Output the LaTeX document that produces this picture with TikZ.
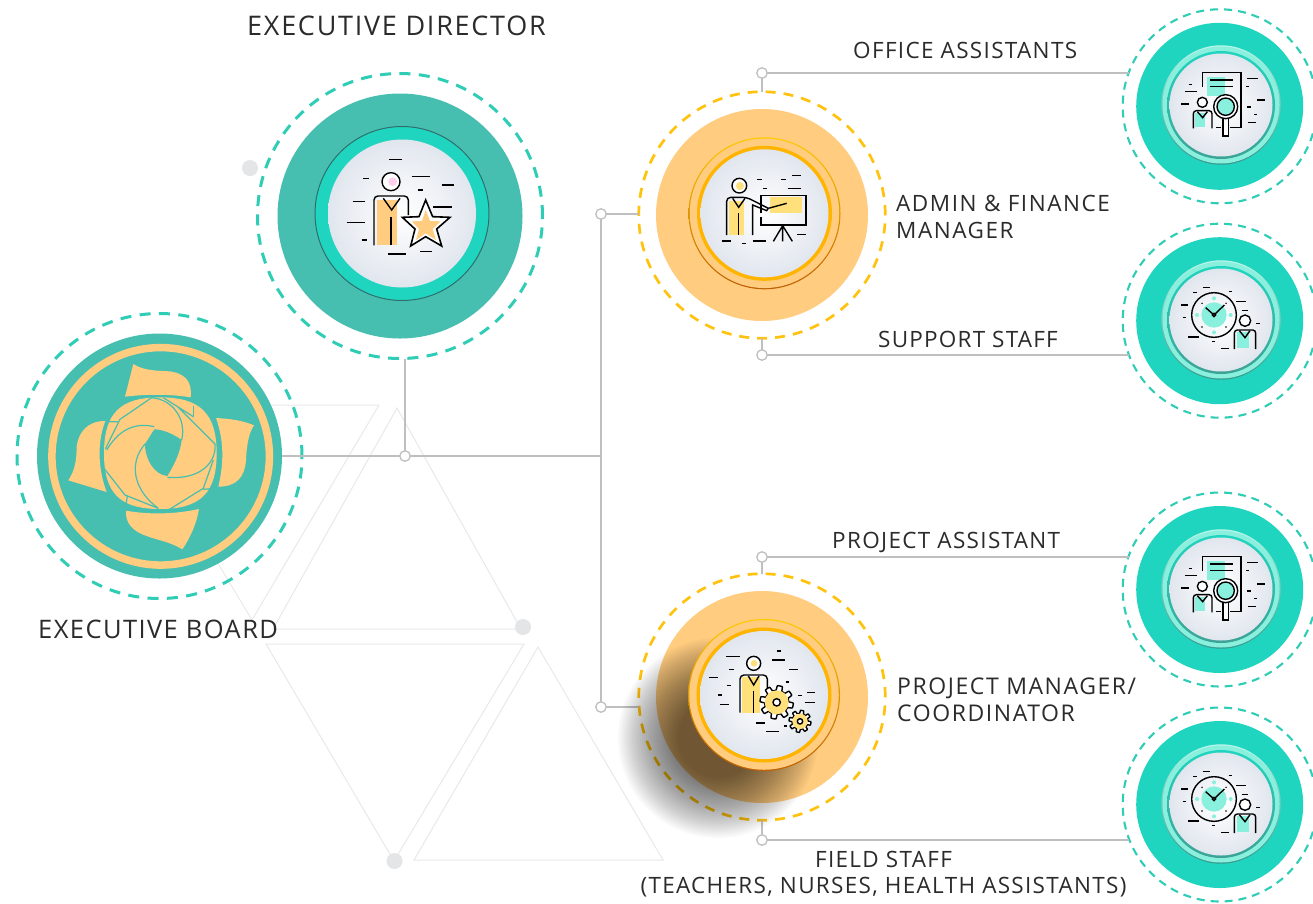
\documentclass[tikz,border=0pt]{standalone}
\usepackage{fontspec}
\setmainfont{Open Sans}
\definecolor{tealA}{HTML}{47BFB0}
\definecolor{tealB}{HTML}{20D5BF}
\definecolor{tealDash}{HTML}{2FCDB6}
\definecolor{tealSoft}{HTML}{8AF0DE}
\definecolor{tealLine}{HTML}{2E6F6B}
\definecolor{orangeA}{HTML}{FFCC80}
\definecolor{orangeB}{HTML}{FFB400}
\definecolor{goldDash}{HTML}{FFC20E}
\definecolor{yellowA}{HTML}{FFE07A}
\definecolor{connGray}{HTML}{BFBFBF}
\definecolor{triGray}{HTML}{E9E9E9}
\definecolor{dotGray}{HTML}{E4E5E7}
\definecolor{inkText}{HTML}{2B2B2B}
\definecolor{paleEdge}{HTML}{E1E6EE}
\newcommand{\dashlist}[1]{\foreach \a/\b/\c in {#1}{\draw[icon] (\a,\c)--(\b,\c);}}
\newcommand{\paperIcon}[2]{%
\begin{scope}[shift={(#1,#2)},scale=1/3]
\fill[tealSoft] (290,230) rectangle (345,287);
\draw[icon] (278,260)--(278,218)--(393,218)--(393,383)--(360,383);
\draw[icon] (300,240)--(370,240) (300,259)--(370,259);
\fill[tealSoft] (256,340) rectangle (285,380);
\draw[icon,rounded corners=3pt] (250,385)--(250,332)--(306,332)--(306,385);
\draw[icon] (262,335)--(278,353)--(292,335);
\draw[icon,fill=white] (277,307) circle [radius=15];
\draw[icon,fill=white] (339,355) rectangle (355,408);
\draw[icon,fill=white] (347,320) circle [radius=36];
\draw[icon,fill=tealSoft] (347,320) circle [radius=26];
\dashlist{236/247/254,225/260/275,214/238/312,412/443/235,408/418/259,442/465/300,412/423/321,432/442/344,415/439/368,318/332/383}
\end{scope}}
\newcommand{\clockIcon}[2]{%
\begin{scope}[shift={(#1,#2)},scale=1/3]
\draw[icon] (312,300) circle [radius=67];
\fill[tealSoft] (312,300) circle [radius=38];
\foreach \p/\q in {312/250,362/300,312/352,261/300}{\fill[tealSoft] (\p,\q) circle [radius=6];}
\foreach \p/\q in {276/265,348/265,276/336,348/336}{\fill (\p,\q) circle [radius=2.5];}
\draw[icon] (287,278)--(312,300)--(343,270);
\draw[icon,fill=white] (312,300) circle [radius=5];
\fill[tealSoft] (380,352) rectangle (418,398);
\draw[icon,rounded corners=3pt] (373,402)--(373,345)--(437,345)--(437,402);
\draw[icon] (388,347)--(405,368)--(420,347);
\draw[icon,fill=white] (405,317) circle [radius=17];
\dashlist{278/301/217,250/260/233,356/367/229,378/408/260,213/235/270,395/415/287,218/228/307,438/449/326,234/266/366,306/316/380,334/356/401}
\end{scope}}
\newcommand{\gearAt}[5]{%
\draw[icon,fill=white] plot[domain=0:360,samples=193] ({#1+#3*(0.86+0.14*max(-1,min(1,3*sin(8*\x))))*cos(\x)},{#2+#3*(0.86+0.14*max(-1,min(1,3*sin(8*\x))))*sin(\x)}) -- cycle;
\fill[yellowA] (#1,#2) circle [radius=#4];
\draw[icon,fill=white] (#1,#2) circle [radius=#5];}
\tikzset{
 sized/.style={circle,inner sep=0pt,outer sep=0pt,minimum size=#1},
 icon/.style={draw=black,line width=1.4pt},
 conn/.style={draw=connGray,line width=1.5pt},
 tri/.style={draw=triGray,line width=1pt},
 joint/.style={sized=10.5pt,draw=connGray,line width=1.3pt,fill=white},
 ghost/.style={sized=16pt,fill=dotGray},
 ringBig/.style={sized=285pt,draw=tealDash,line width=3pt,dash pattern=on 11pt off 8.4pt},
 ringGold/.style={sized=246.5pt,draw=goldDash,line width=2.7pt,dash pattern=on 10pt off 8pt},
 ringThin/.style={sized=194pt,draw=tealDash,line width=2.1pt,dash pattern=on 8pt off 6pt},
 discA/.style={sized=245pt,fill=tealA},
 discO/.style={sized=212pt,fill=orangeA},
 discT/.style={sized=167pt,fill=tealB},
 centre/.style={circle,inner sep=0pt,outer sep=0pt,shading=radial,inner color=white,outer color=paleEdge},
 labL/.style 2 args={inner sep=0pt,text=inkText,anchor=west,align=left,font=\fontsize{#1}{26.5}\selectfont\addfontfeatures{LetterSpace=#2}},
 labC/.style 2 args={inner sep=0pt,text=inkText,align=center,font=\fontsize{#1}{26.5}\selectfont\addfontfeatures{LetterSpace=#2}},
}
\begin{document}
\begin{tikzpicture}[x=1pt,y=-1pt]
\useasboundingbox (0,0) rectangle (1313,903);
\fill[white] (0,0) rectangle (1313,903);
% background triangles
\draw[tri] (123,405)--(379,405)--(252,620)--cycle;
\draw[tri] (397,408)--(521,629)--(273,629)--cycle;
\draw[tri] (266,644)--(524,644)--(394,861)--cycle;
\draw[tri] (538,647)--(663,860)--(414,860)--cycle;
\node[ghost] (g1) at (250,168) {};
\node[ghost] (g2) at (523,627) {};
\node[ghost] (g3) at (394.5,861) {};
% outer rings and discs
\node[discA] (ed) at (400,216) {};
\node[ringBig] (edr) at (400,216) {};
\node[discA] (bo) at (159.5,456) {};
\node[ringBig] (bor) at (159.5,456) {};
\node[discO] (ad) at (762,215) {};
\node[ringGold] (adr) at (762,215) {};
\node[discO] (pm) at (762,697) {};
\node[ringGold] (pmr) at (762,697) {};
\foreach \n/\y in {oa/106.3,ss/320.7,pa/589.5,fs/804.5}{
 \node[discT] (\n) at (1219.7,\y) {};
 \node[ringThin] (\n r) at (1219.7,\y) {};
}
% junctions and connectors
\node[joint] (j1) at (405,456) {};
\coordinate (jm) at (601,456);
\node[joint] (ja) at (601,214) {};
\node[joint] (jp) at (601,707) {};
\node[joint] (jo) at (762,73) {};
\node[joint] (js) at (762,355) {};
\node[joint] (jq) at (762,557) {};
\node[joint] (jf) at (762,840) {};
\draw[conn] (bo.east)--(j1);
\draw[conn] (j1)--(edr.south -| j1);
\draw[conn] (j1)--(jm);
\draw[conn] (jm)--(ja);
\draw[conn] (jm)--(jp);
\draw[conn] (ja)--(adr.west |- ja);
\draw[conn] (jp)--(pmr.west |- jp);
\draw[conn] (jo)--(adr.north);
\draw[conn] (js)--(adr.south);
\draw[conn] (jq)--(pmr.north);
\draw[conn] (jf)--(pmr.south);
\draw[conn] (jo)--(jo -| oar.160);
\draw[conn] (js)--(js -| ssr.201);
\draw[conn] (jq)--(jq -| par.160);
\draw[conn] (jf)--(jf -| fsr.201);
% cast shadow
\foreach \r in {40,42,...,100}{\fill[black,opacity=0.024] (718,738) circle [radius=\r];}
% executive director centre
\node[sized=174pt,fill=tealB,draw=tealLine,line width=1pt] (edi) at (402,213.5) {};
\node[centre,minimum size=148pt] (edc) at (402,213.5) {};
\begin{scope}[shift={(240,60)},scale=1/3]
\fill[orangeA] (412,420) rectangle (470,555);
\draw[icon,rounded corners=4pt] (402,556)--(402,408)--(505,408)--(505,465);
\draw[icon] (430,415)--(455,450)--(480,415);
\draw[icon] (453,470)--(453,556);
\fill[white] (557,420)--(578,470)--(630,472)--(590,507)--(605,558)--(557,530)--(512,558)--(525,507)--(487,472)--(537,470)--cycle;
\fill[orangeA] (557,450)--(570,483)--(602,484)--(578,507)--(588,540)--(557,520)--(528,540)--(537,507)--(515,484)--(546,483)--cycle;
\draw[icon,line width=1.6pt] (557,420)--(578,470)--(630,472)--(590,507)--(605,558)--(557,530)--(512,558)--(525,507)--(487,472)--(537,470)--cycle;
\draw[icon,fill=white] (453,365) circle [radius=27];
\fill[pink!70!magenta!40!white] (458,365) circle [radius=13];
\dashlist{448/485/298,370/388/356,515/570/350,605/643/375,533/550/390,338/375/425,580/635/441,320/375/488,365/382/540,445/498/582,540/577/575}
\end{scope}
% logo
\begin{scope}[shift={(0,300)},scale=1/3]
\node[sized=217.5pt,draw=orangeA,line width=7.5pt] (bol) at (482,469) {};
\fill[orangeA] (400,192) .. controls (430,212) and (470,212) .. (510,214) .. controls (550,220) and (578,240) .. (572,292) .. controls (510,282) and (440,282) .. (375,290) -- cycle;
\fill[orangeA] (648,354) .. controls (690,356) and (730,362) .. (762,376) .. controls (745,400) and (740,440) .. (738,480) .. controls (735,530) and (710,560) .. (655,560) .. controls (672,490) and (672,420) .. (648,354) -- cycle;
\fill[orangeA] (597,627) .. controls (590,670) and (570,715) .. (547,748) .. controls (510,725) and (470,720) .. (440,708) .. controls (400,695) and (375,670) .. (378,632) .. controls (450,645) and (530,642) .. (597,627) -- cycle;
\fill[orangeA] (205,541) .. controls (225,510) and (230,480) .. (230,440) .. controls (235,395) and (265,362) .. (316,363) .. controls (290,430) and (295,510) .. (320,576) -- cycle;
\fill[orangeA] (480,292) .. controls (600,292) and (650,340) .. (650,460) .. controls (650,580) and (600,627) .. (480,627) .. controls (360,627) and (312,580) .. (312,460) .. controls (312,340) and (360,292) .. (480,292) -- cycle;
\fill[tealA] (463,388) .. controls (490,388) and (525,405) .. (545,420) .. controls (540,460) and (522,495) .. (502,528) .. controls (465,525) and (435,480) .. (435,432) -- cycle;
\begin{scope}[draw=tealA,line width=1.2pt]
\draw (316,447)--(360,358)--(455,293) .. controls (520,298) and (560,360) .. (545,420);
\draw (490,293)--(580,350) (535,322)--(645,432) .. controls (650,480) and (610,540) .. (502,532);
\draw (580,350)--(580,318);
\draw (320,450) .. controls (365,375) and (420,370) .. (463,380);
\draw (435,432) .. controls (385,490) and (400,570) .. (475,625);
\draw (312,505)--(375,585)--(475,625);
\draw (510,627)--(610,565)--(640,480);
\draw (318,365)--(355,365) (378,615)--(382,587) (610,568)--(645,565);
\end{scope}
\end{scope}
% admin centre
\foreach \n/\cx/\cy in {ai/764.5/213.3,pi/764/695}{
 \node[sized=152pt,top color=orangeB!70!yellow,bottom color=orange!75!black,draw=none] (\n o) at (\cx,\cy) {};
 \node[sized=149.5pt,fill=orangeA] (\n f) at (\cx,\cy) {};
 \node[sized=135pt,fill=orangeB] (\n t) at (\cx,\cy) {};
 \node[centre,minimum size=128pt] (\n c) at (\cx,\cy) {};
}
\begin{scope}[shift={(630,80)},scale=1/3]
\fill[yellowA] (298,362) rectangle (342,465);
\fill[yellowA] (420,352) rectangle (517,398);
\draw[icon,rounded corners=4pt] (290,465)--(290,352)--(350,352)--(415,385);
\draw[icon] (415,385)--(470,370);
\draw[icon] (368,465)--(368,375)--(410,392)--(415,385);
\draw[icon] (308,355)--(326,382)--(345,355);
\draw[icon] (326,400)--(326,465);
\draw[icon] (393,400)--(393,347)--(528,347)--(528,435)--(393,435)--(393,412);
\draw[icon] (430,484)--(458,437)--(487,484) (458,437)--(458,484);
\draw[icon,fill=white] (328,317) circle [radius=22];
\fill[yellowA] (330,318) circle [radius=12];
\dashlist{381/395/299,453/468/299,486/513/287,399/412/326,473/512/326,502/528/464,275/302/483,335/348/491,368/408/483}
\end{scope}
\begin{scope}[shift={(610,560)},scale=1/3]
\fill[yellowA] (397,352) rectangle (450,458);
\draw[icon,rounded corners=4pt] (390,458)--(390,345)--(472,345)--(472,385);
\draw[icon] (415,348)--(431,375)--(447,348);
\draw[icon] (431,392)--(431,458);
\draw[icon,fill=white] (431,310) circle [radius=21];
\fill[yellowA] (432,310) circle [radius=10];
\gearAt{500}{427}{50}{36}{11}
\gearAt{570}{484}{33}{23}{8}
\dashlist{349/390/289,500/513/273,486/526/300,357/371/329,537/564/329,298/325/352,350/362/376,527/537/366,325/337/405,592/614/398,565/575/407,584/614/428,329/357/433,437/466/489,522/530/498,468/507/515}
\end{scope}
% right-hand centres
\foreach \n/\cy in {oa/105,ss/320,pa/589,fs/804}{
 \node[sized=119.4pt,top color=tealSoft!60!white,bottom color=tealA!80!black] (\n o) at (1221,\cy) {};
 \node[sized=117pt,fill=tealSoft] (\n f) at (1221,\cy) {};
 \node[sized=108pt,top color=tealB,bottom color=tealA!85!black] (\n t) at (1221,\cy) {};
 \node[centre,minimum size=103pt] (\n c) at (1221,\cy) {};
}
\paperIcon{1110}{0}
\clockIcon{1110}{215}
\paperIcon{1110}{484}
\clockIcon{1110}{699}
% labels
\node[labL={27}{6.4}] (t1) at (247,25.5) {EXECUTIVE DIRECTOR};
\node[labL={25.5}{5.6}] (t2) at (38,629) {EXECUTIVE BOARD};
\node[labL={22.5}{5.9}] (t3) at (853,50) {OFFICE ASSISTANTS};
\node[labL={22.5}{6.9}] (t4) at (896,217) {ADMIN \& FINANCE\\MANAGER};
\node[labL={22.5}{5.4}] (t5) at (878,339) {SUPPORT STAFF};
\node[labL={22.5}{5.9}] (t6) at (832,542) {PROJECT ASSISTANT};
\node[labL={23}{6.8}] (t7) at (897,700) {PROJECT MANAGER/\\COORDINATOR};
\node[labC={22.5}{5.8}] (t8) at (883.5,874) {FIELD STAFF\\(TEACHERS, NURSES, HEALTH ASSISTANTS)};
\end{tikzpicture}
\end{document}
